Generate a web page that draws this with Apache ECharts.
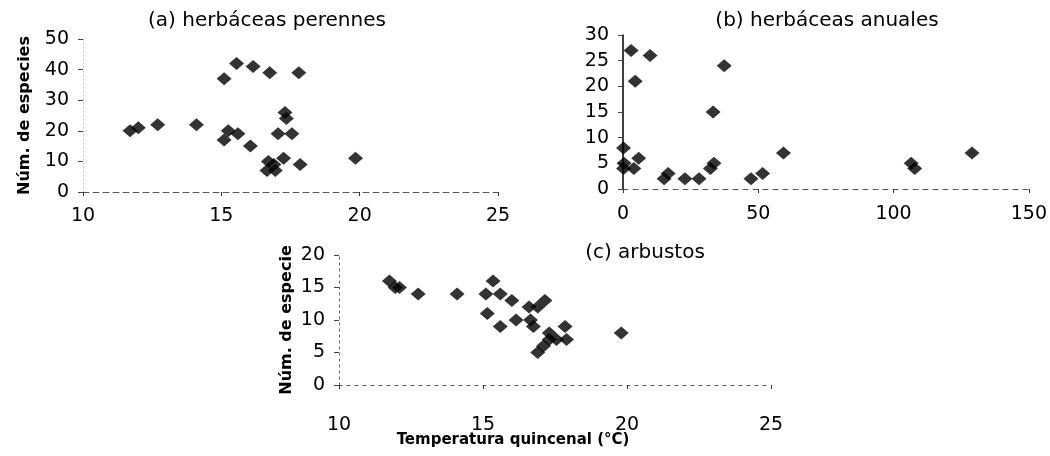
<!DOCTYPE html>
<html>
<head>
<meta charset="utf-8">
<script src="https://cdn.jsdelivr.net/npm/echarts@6/dist/echarts.min.js"></script>
<style>
  html, body { margin: 0; padding: 0; background: #ffffff; }
  #chart { width: 1050px; height: 456px; }
</style>
</head>
<body>
<div id="chart"></div>
<script>
// (a) herbáceas perennes: temperatura quincenal (°C) vs. número de especies
const perennesTemp    = [11.7, 12.0, 12.7, 14.1, 15.1, 15.55, 16.15, 16.75, 17.8, 15.25, 15.1, 15.6, 16.05, 17.3, 17.35, 17.05, 17.55, 16.7, 17.25, 16.65, 16.95, 16.9, 17.85, 19.85];
const perennesSpecies = [20,   21,   22,   22,   37,   42,    41,    39,    39,   20,    17,   19,   15,    26,   24,    19,    19,    10,   11,    7,     7,     9,    9,     11];

// (b) herbáceas anuales
const anualesX       = [0.2, 0.4, 0.2, 3.0, 4.5, 4.0, 5.8, 10.0, 15.2, 16.7, 22.9, 28.1, 33.3, 32.3, 33.6, 37.4, 47.3, 51.6, 59.3, 106.5, 107.8, 129.0];
const anualesSpecies = [8,   5,   4,   27,  21,  4,   6,   26,   2,    3,    2,    2,    15,   4,    5,    24,   2,    3,    7,    5,     4,     7];

// (c) arbustos
const arbustosTemp    = [11.75, 11.95, 12.1, 12.75, 14.1, 15.1, 15.35, 15.6, 16.0, 15.15, 15.6, 16.15, 16.65, 16.75, 16.6, 16.9, 17.15, 17.3, 16.9, 17.1, 17.3, 17.55, 17.85, 17.9, 19.8];
const arbustosSpecies = [16,    15,    15,   14,    14,   14,   16,    14,   13,   11,    9,    10,    10,    9,     12,   12,   13,    8,    5,    6,    7,    7,     9,     7,    8];

// Tick values
const tempTicks = { min: 10, max: 25, interval: 5 };
const anualesTicks = { min: 0, max: 150, interval: 50 };
const perennesYTicks = { min: 0, max: 50, interval: 10 };
const anualesYTicks = { min: 0, max: 30, interval: 5 };
const arbustosYTicks = { min: 0, max: 20, interval: 5 };

const panelTitles = ['(a) herbáceas perennes', '(b) herbáceas anuales', '(c) arbustos'];
const yName = 'Núm. de especies';
const xName = 'Temperatura quincenal (°C)';

const FONT = 'DejaVu Sans, Verdana, sans-serif';

function pairs(xs, ys) { return xs.map((x, i) => [x, ys[i]]); }

function xAxisOf(gridIndex, ticks, lineType, labelMargin) {
  return {
    type: 'value', gridIndex,
    min: ticks.min, max: ticks.max, interval: ticks.interval,
    splitLine: { show: false },
    axisLine: { show: true, onZero: false, lineStyle: { color: '#555', width: 1, type: lineType } },
    axisTick: { show: true, length: 4, lineStyle: { color: '#333' } },
    axisLabel: { color: '#000', fontFamily: FONT, fontSize: 19, margin: labelMargin }
  };
}

function yAxisOf(gridIndex, ticks, lineStyle, nameOpts) {
  const ax = {
    type: 'value', gridIndex,
    min: ticks.min, max: ticks.max, interval: ticks.interval,
    splitLine: { show: false },
    axisLine: { show: true, onZero: false, lineStyle },
    axisTick: { show: true, length: 5, lineStyle: { color: '#444' } },
    axisLabel: { color: '#000', fontFamily: FONT, fontSize: 19, margin: 14 }
  };
  if (nameOpts) Object.assign(ax, nameOpts);
  return ax;
}

const diamond = { symbol: 'diamond', symbolSize: [15, 13], itemStyle: { color: '#000' } };

const chart = echarts.init(document.getElementById('chart'), null, { renderer: 'canvas' });

chart.setOption({
  backgroundColor: '#ffffff',
  animation: false,
  grid: [
    { left: 83,  top: 39,  width: 415, height: 153 },
    { left: 623, top: 35,  width: 406, height: 154 },
    { left: 339, top: 255, width: 432, height: 130 }
  ],
  xAxis: [
    xAxisOf(0, tempTicks, [6, 4], 15),
    xAxisOf(1, anualesTicks, [5, 5], 16),
    xAxisOf(2, tempTicks, [3, 5], 31)
  ],
  yAxis: [
    yAxisOf(0, perennesYTicks, { color: '#bbb', width: 1, type: [1, 3] }, {
      name: yName, nameLocation: 'middle', nameGap: 50,
      nameTextStyle: { color: '#000', fontFamily: FONT, fontWeight: 'bold', fontSize: 16 }
    }),
    yAxisOf(1, anualesYTicks, { color: '#000', width: 1.5, type: 'solid' }, null),
    yAxisOf(2, arbustosYTicks, { color: '#666', width: 1, type: [2, 4] }, {
      name: yName, nameLocation: 'middle', nameGap: 44,
      nameTruncate: { maxWidth: 152, ellipsis: '' },
      nameTextStyle: { color: '#000', fontFamily: FONT, fontWeight: 'bold', fontSize: 16 }
    })
  ],
  graphic: [
    { type: 'text', x: 267, y: 21, style: { text: panelTitles[0], fill: '#000', font: '20px ' + FONT, textAlign: 'center', textVerticalAlign: 'middle' } },
    { type: 'text', x: 827, y: 21, style: { text: panelTitles[1], fill: '#000', font: '20px ' + FONT, textAlign: 'center', textVerticalAlign: 'middle' } },
    { type: 'text', x: 645, y: 253, style: { text: panelTitles[2], fill: '#000', font: '20px ' + FONT, textAlign: 'center', textVerticalAlign: 'middle' } },
    { type: 'text', x: 513, y: 440, style: { text: xName, fill: '#000', font: 'bold 15px ' + FONT, textAlign: 'center', textVerticalAlign: 'middle' } }
  ],
  series: [
    Object.assign({ type: 'scatter', xAxisIndex: 0, yAxisIndex: 0, data: pairs(perennesTemp, perennesSpecies) }, diamond),
    Object.assign({ type: 'scatter', xAxisIndex: 1, yAxisIndex: 1, data: pairs(anualesX, anualesSpecies) }, diamond),
    Object.assign({ type: 'scatter', xAxisIndex: 2, yAxisIndex: 2, data: pairs(arbustosTemp, arbustosSpecies) }, diamond)
  ]
});
</script>
</body>
</html>
